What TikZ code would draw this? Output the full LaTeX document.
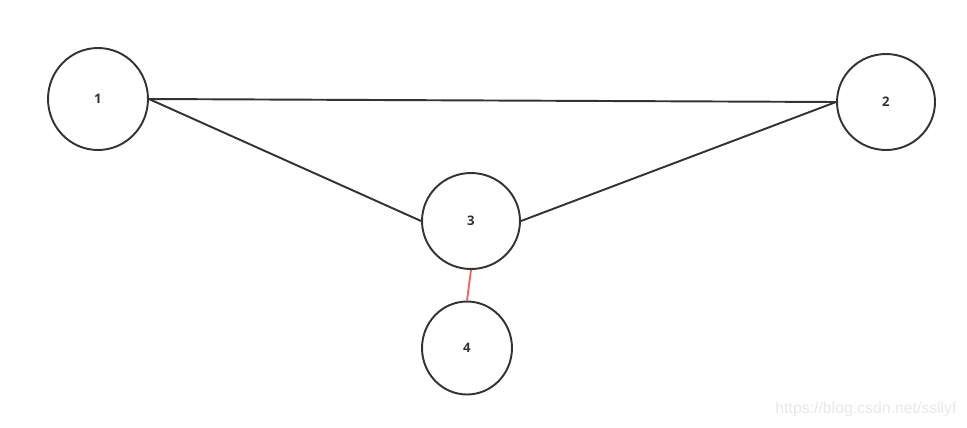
\documentclass[tikz,border=0pt]{standalone}
\usepackage{fontspec}
\setmainfont{Open Sans}
\newfontfamily\markfont{Liberation Sans}
\usepackage{tikz}
\usetikzlibrary{shapes.geometric}
\usepackage{xcolor}
\definecolor{edgegray}{HTML}{333333}
\definecolor{linkred}{HTML}{F26666}
\definecolor{markgray}{HTML}{E8E8E8}

\begin{document}
\begin{tikzpicture}[x=0.02cm, y=-0.02cm,
    vertex/.style={draw=edgegray, line width=1.1pt, ellipse, inner sep=0pt,
        font=\bfseries\fontsize{7.5}{8}\selectfont, text=edgegray},
    link/.style={draw=edgegray, line width=1.1pt}]
    \useasboundingbox (0,0) rectangle (967,427);
    \node[vertex, minimum width=2cm, minimum height=2.04cm] (n1) at (98,99) {1};
    \node[vertex, minimum width=1.96cm, minimum height=1.92cm] (n2) at (886,102) {2};
    \node[vertex, minimum width=1.96cm, minimum height=1.92cm] (n3) at (471,221) {3};
    \node[vertex, minimum width=1.8cm, minimum height=1.86cm] (n4) at (467,348) {4};
    \draw[link] (n1.east) -- (n2.west);
    \draw[link] (n1.east) -- (n3.west);
    \draw[link] (n3.east) -- (n2.west);
    \draw[draw=linkred, line width=1.1pt] (n3.south) -- (n4.north);
    \node[text=markgray, font=\markfont\fontsize{9}{11}\selectfont] (mark) at (866,409) {https://blog.csdn.net/ssllyf};
\end{tikzpicture}
\end{document}
